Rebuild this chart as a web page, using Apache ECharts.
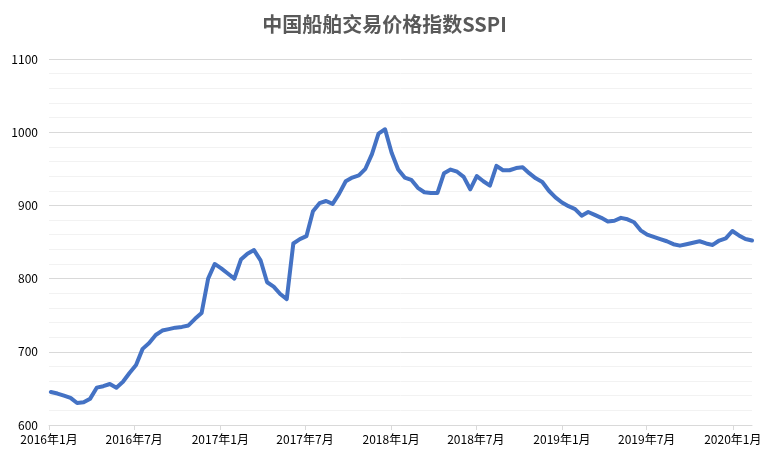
<!DOCTYPE html>
<html>
<head>
<meta charset="utf-8">
<script src="https://cdn.jsdelivr.net/npm/echarts@6/dist/echarts.min.js"></script>
<style>
html,body{margin:0;padding:0;background:#fff;}
#chart{width:769px;height:461px;}
</style>
</head>
<body>
<div id="chart"></div>
<script>
const chartTitle = '中国船舶交易价格指数SSPI';
// biweekly observations, first on 2016-01-05
const firstDate = [2016, 0, 5];
const stepDays = 14;
const sspi = [
  645, 643, 640, 637, 630, 631, 636, 651, 653, 656,
  651, 659, 671, 682, 704, 712, 723, 729, 731, 733,
  734, 736, 745, 753, 800, 820, 814, 807, 800, 826,
  834, 839, 825, 795, 789, 779, 772, 848, 854, 858,
  892, 903, 906, 902, 916, 933, 938, 941, 950, 970,
  998, 1004, 972, 949, 938, 935, 924, 918, 917, 917,
  944, 949, 946, 939, 922, 940, 933, 927, 954, 948,
  948, 951, 952, 944, 937, 932, 920, 911, 904, 899,
  895, 886, 891, 887, 883, 878, 879, 883, 881, 877,
  866, 860, 857, 854, 851, 847, 845, 847, 849, 851,
  848, 846, 852, 855, 865, 859, 854, 852
];
const xTickMonths = [
  [2016, 0], [2016, 6], [2017, 0], [2017, 6], [2018, 0],
  [2018, 6], [2019, 0], [2019, 6], [2020, 0]
];
const yMin = 600, yMax = 1100, yStep = 100;

const dates = sspi.map((_, i) => new Date(firstDate[0], firstDate[1], firstDate[2] + stepDays * i).getTime());
const tickTimes = xTickMonths.map(([y, m]) => new Date(y, m, 1).getTime());
const seriesData = sspi.map((v, i) => [dates[i], v]);

const labelFont = "'Noto Sans CJK SC', 'Liberation Sans', sans-serif";
const chart = echarts.init(document.getElementById('chart'));
chart.setOption({
  animation: false,
  backgroundColor: '#ffffff',
  title: {
    text: chartTitle,
    left: 'center',
    top: 9,
    textStyle: { fontSize: 20, fontWeight: 'bold', color: '#595959', fontFamily: labelFont }
  },
  grid: { left: 49, right: 17, top: 59, bottom: 36 },
  xAxis: {
    type: 'value',
    min: tickTimes[0],
    max: dates[dates.length - 1],
    axisLine: { show: true, lineStyle: { color: '#d9d9d9', width: 1 } },
    axisTick: { show: true, customValues: tickTimes, length: 5, lineStyle: { color: '#d9d9d9' } },
    axisLabel: {
      customValues: tickTimes,
      color: '#000',
      fontSize: 12,
      margin: 8,
      fontFamily: labelFont,
      formatter: function (v) {
        const d = new Date(v);
        return d.getFullYear() + '年' + (d.getMonth() + 1) + '月';
      }
    },
    splitLine: { show: false }
  },
  yAxis: {
    type: 'value',
    min: yMin,
    max: yMax,
    interval: yStep,
    axisLine: { show: false },
    axisTick: { show: false },
    axisLabel: {
      color: '#000', fontSize: 12, margin: 11, fontFamily: labelFont,
      formatter: function (v) { return String(v); }
    },
    splitLine: { show: true, lineStyle: { color: '#d9d9d9', width: 1 } },
    minorTick: { show: false, splitNumber: 5 },
    minorSplitLine: { show: true, lineStyle: { color: '#f2f2f2', width: 1 } }
  },
  series: [{
    type: 'line',
    data: seriesData,
    showSymbol: false,
    symbol: 'none',
    smooth: false,
    lineStyle: { color: '#4472C4', width: 4, cap: 'round', join: 'round' },
    itemStyle: { color: '#4472C4' }
  }]
});
</script>
</body>
</html>
